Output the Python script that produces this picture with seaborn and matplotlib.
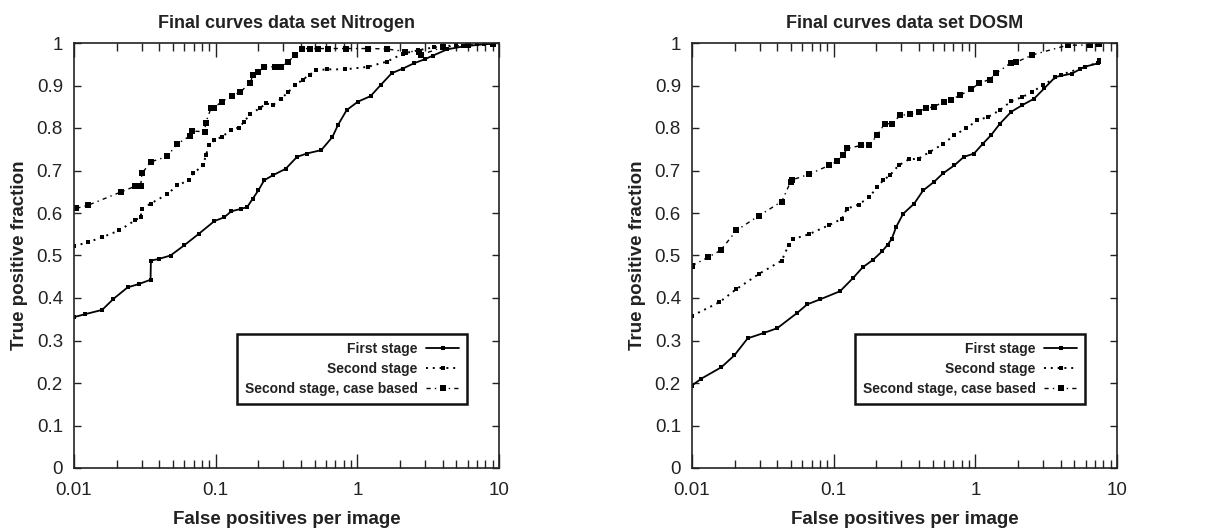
import numpy as np
import pandas as pd
import seaborn as sns
import matplotlib.pyplot as plt
from matplotlib.ticker import LogLocator, NullFormatter, FuncFormatter, MultipleLocator

# ---- Nitrogen data set ----
n_first_x = [0.01, 0.012, 0.0158, 0.019, 0.0239, 0.0288, 0.0347, 0.0349, 0.0398, 0.048,
             0.06, 0.076, 0.098, 0.115, 0.129, 0.152, 0.167, 0.183, 0.2, 0.22,
             0.254, 0.312, 0.375, 0.44, 0.557, 0.667, 0.73, 0.84, 1.01, 1.24,
             1.46, 1.75, 2.1, 2.5, 3.0, 3.4, 4.3, 5.6, 7.8, 9.0]
n_first_y = [0.355, 0.362, 0.372, 0.398, 0.425, 0.433, 0.443, 0.488, 0.492, 0.5,
             0.524, 0.551, 0.581, 0.59, 0.604, 0.61, 0.614, 0.634, 0.653, 0.677,
             0.689, 0.704, 0.732, 0.74, 0.748, 0.779, 0.807, 0.842, 0.862, 0.875,
             0.901, 0.929, 0.94, 0.952, 0.962, 0.97, 0.985, 0.992, 0.997, 0.998]

n_second_x = [0.01, 0.0125, 0.0158, 0.0209, 0.027, 0.0295, 0.0302, 0.0347, 0.0454, 0.0537,
              0.0646, 0.0694, 0.0814, 0.0854, 0.0895, 0.098, 0.11, 0.129, 0.145, 0.159,
              0.175, 0.205, 0.226, 0.254, 0.29, 0.326, 0.366, 0.412, 0.46, 0.51,
              0.61, 0.82, 1.19, 1.61, 2.1, 2.7, 3.5, 5.0, 7.0, 9.0]
n_second_y = [0.522, 0.531, 0.543, 0.559, 0.583, 0.59, 0.61, 0.622, 0.644, 0.665,
              0.677, 0.693, 0.712, 0.736, 0.759, 0.771, 0.779, 0.795, 0.801, 0.814,
              0.834, 0.846, 0.858, 0.854, 0.869, 0.885, 0.901, 0.914, 0.925, 0.936,
              0.938, 0.938, 0.944, 0.956, 0.975, 0.983, 0.99, 0.995, 0.997, 0.998]

n_case_x = [0.0104, 0.0125, 0.0213, 0.027, 0.0295, 0.0302, 0.0347, 0.0454, 0.0533, 0.0656,
            0.068, 0.0835, 0.085, 0.093, 0.098, 0.11, 0.13, 0.149, 0.175, 0.183,
            0.2, 0.22, 0.264, 0.29, 0.325, 0.366, 0.41, 0.46, 0.53, 0.625,
            0.83, 1.19, 1.61, 2.17, 2.74, 2.8, 4.0, 6.0, 9.0]
n_case_y = [0.611, 0.618, 0.649, 0.663, 0.663, 0.693, 0.72, 0.733, 0.762, 0.781,
            0.793, 0.791, 0.812, 0.848, 0.848, 0.862, 0.875, 0.885, 0.905, 0.925,
            0.932, 0.944, 0.944, 0.943, 0.956, 0.972, 0.987, 0.987, 0.987, 0.987,
            0.987, 0.987, 0.986, 0.98, 0.98, 0.972, 0.99, 0.995, 0.998]

# ---- DOSM data set ----
d_first_x = [0.01, 0.0116, 0.0161, 0.0199, 0.0247, 0.0323, 0.04, 0.0553, 0.065, 0.0805,
             0.111, 0.138, 0.16, 0.19, 0.22, 0.24, 0.257, 0.276, 0.309, 0.37,
             0.428, 0.51, 0.59, 0.71, 0.83, 0.98, 1.13, 1.29, 1.49, 1.79,
             2.15, 2.6, 3.06, 3.67, 4.8, 5.9, 7.3, 7.5]
d_first_y = [0.194, 0.21, 0.237, 0.265, 0.305, 0.318, 0.329, 0.365, 0.385, 0.397,
             0.416, 0.448, 0.472, 0.49, 0.51, 0.525, 0.539, 0.567, 0.598, 0.622,
             0.653, 0.673, 0.693, 0.712, 0.732, 0.74, 0.763, 0.783, 0.81, 0.838,
             0.854, 0.869, 0.893, 0.92, 0.928, 0.944, 0.952, 0.96]

d_second_x = [0.01, 0.0156, 0.0206, 0.0298, 0.043, 0.048, 0.052, 0.067, 0.092, 0.114,
              0.124, 0.15, 0.178, 0.203, 0.224, 0.25, 0.287, 0.339, 0.398, 0.478,
              0.59, 0.71, 0.86, 1.03, 1.23, 1.49, 1.79, 2.15, 2.53, 3.0,
              4.0, 5.5, 7.5]
d_second_y = [0.358, 0.39, 0.421, 0.457, 0.488, 0.524, 0.539, 0.55, 0.571, 0.586,
              0.61, 0.62, 0.637, 0.661, 0.677, 0.689, 0.712, 0.726, 0.728, 0.744,
              0.762, 0.783, 0.799, 0.818, 0.826, 0.842, 0.863, 0.873, 0.885, 0.901,
              0.925, 0.94, 0.955]

d_case_x = [0.01, 0.013, 0.0159, 0.0206, 0.0298, 0.043, 0.0496, 0.051, 0.0668, 0.093,
            0.106, 0.116, 0.125, 0.157, 0.178, 0.203, 0.229, 0.257, 0.295, 0.345,
            0.398, 0.446, 0.51, 0.6, 0.675, 0.78, 0.935, 1.07, 1.26, 1.41,
            1.79, 1.95, 2.53, 4.5, 6.5, 7.5]
d_case_y = [0.476, 0.496, 0.512, 0.559, 0.594, 0.627, 0.673, 0.678, 0.691, 0.712,
            0.722, 0.736, 0.752, 0.759, 0.759, 0.783, 0.81, 0.81, 0.83, 0.832,
            0.838, 0.846, 0.85, 0.862, 0.867, 0.877, 0.891, 0.906, 0.914, 0.929,
            0.954, 0.955, 0.972, 0.995, 0.995, 0.998]

titles = ["Final curves data set Nitrogen", "Final curves data set DOSM"]
labels = ["First stage", "Second stage", "Second stage, case based"]

sns.set_style("white")
plt.rcParams['font.family'] = ['Liberation Sans', 'DejaVu Sans']

fig = plt.figure(figsize=(12.18, 5.32), dpi=100)
ax1 = fig.add_axes([74 / 1218, 64 / 532, 425 / 1218, 425 / 532])
ax2 = fig.add_axes([692 / 1218, 64 / 532, 425 / 1218, 425 / 532])

panels = [
    (ax1, [(n_first_x, n_first_y), (n_second_x, n_second_y), (n_case_x, n_case_y)]),
    (ax2, [(d_first_x, d_first_y), (d_second_x, d_second_y), (d_case_x, d_case_y)]),
]

styles = [
    dict(linestyle='-', linewidth=1.3, marker='s', markersize=2.3),
    dict(linestyle=(0, (1, 2.5)), linewidth=1.4, marker='s', markersize=2.6),
    dict(linestyle=(0, (3, 3, 1, 3)), linewidth=1.0, marker='s', markersize=4.3),
]

for (ax, series), title in zip(panels, titles):
    for (xs, ys), lab, st in zip(series, labels, styles):
        df = pd.DataFrame({'fp': xs, 'tp': ys})
        sns.lineplot(data=df, x='fp', y='tp', ax=ax, color='black', estimator=None,
                     sort=False, label=lab, markeredgewidth=0, **st)
    ax.set_xscale('log')
    ax.set_xlim(0.01, 10)
    ax.set_ylim(0, 1)
    ax.xaxis.set_major_locator(LogLocator(base=10, numticks=10))
    ax.xaxis.set_minor_locator(LogLocator(base=10, subs=np.arange(2, 10), numticks=20))
    ax.xaxis.set_minor_formatter(NullFormatter())
    ax.xaxis.set_major_formatter(FuncFormatter(lambda v, p: '%g' % v))
    ax.yaxis.set_major_locator(MultipleLocator(0.1))
    ax.yaxis.set_major_formatter(FuncFormatter(lambda v, p: '%g' % round(v, 1)))
    ax.tick_params(axis='x', which='major', direction='in', length=10, width=1.0,
                   top=True, bottom=True, labelsize=13.5, pad=10, colors='#222222')
    ax.tick_params(axis='x', which='minor', direction='in', length=5.5, width=1.0,
                   top=True, bottom=True, colors='#222222')
    ax.tick_params(axis='y', which='major', direction='in', length=5, width=1.0,
                   left=True, right=True, labelsize=13.5, pad=8, colors='#222222')
    for sp in ax.spines.values():
        sp.set_linewidth(1.2)
        sp.set_color('#222222')
    ax.set_title(title, fontsize=13, fontweight='bold', pad=11, color='#222222')
    ax.set_xlabel("False positives per image", fontsize=13.5, fontweight='bold',
                  labelpad=9, color='#222222')
    ax.set_ylabel("True positive fraction", fontsize=13.5, fontweight='bold',
                  labelpad=6, color='#222222')
    leg = ax.legend(loc='upper right', bbox_to_anchor=(0.925, 0.315), markerfirst=False,
                    fancybox=False, framealpha=1, edgecolor='#111111', handlelength=2.4,
                    prop={'weight': 'bold', 'size': 10}, borderpad=0.55,
                    labelspacing=0.45, handletextpad=0.6, borderaxespad=0)
    leg.get_frame().set_linewidth(1.8)
    for t in leg.get_texts():
        t.set_color('#222222')

fig.savefig('out.png', dpi=100)
